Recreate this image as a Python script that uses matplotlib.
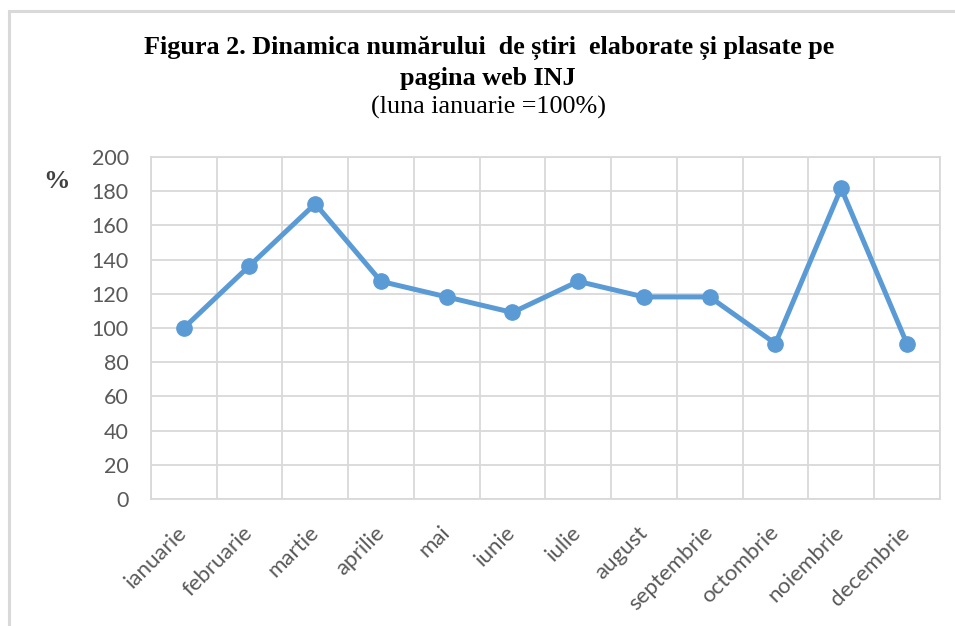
import matplotlib
matplotlib.use("Agg")
import matplotlib.pyplot as plt
from matplotlib.patches import Rectangle
from matplotlib.ticker import MultipleLocator, FixedLocator

# ── data ──────────────────────────────────────────────────────────────────────
MONTHS = ["ianuarie", "februarie", "martie", "aprilie", "mai", "iunie",
          "iulie", "august", "septembrie", "octombrie", "noiembrie", "decembrie"]
PERCENT = [100, 136.4, 172.7, 127.3, 118.2, 109.1,
           127.3, 118.2, 118.2, 90.9, 181.8, 90.9]

TITLE_1 = "Figura 2. Dinamica numărului  de știri  elaborate și plasate pe"
TITLE_2 = "pagina web INJ"
SUBTITLE = "(luna ianuarie =100%)"

# ── style ─────────────────────────────────────────────────────────────────────
LINE_BLUE = "#5B9BD5"
GRID      = "#D9D9D9"
TICK_GREY = "#595959"
SERIF     = ["Liberation Serif", "DejaVu Serif"]
SANS      = ["Lato", "DejaVu Sans"]

fig = plt.figure(figsize=(9.55, 6.26), dpi=100)
ax = fig.add_axes([0.158, 0.203, 0.826, 0.546])

# light frame (only top/left edges visible in the screenshot)
fig.patches.append(Rectangle((9 / 955, -0.05), 1.2, 1 - 11 / 626 + 0.05,
                             transform=fig.transFigure, fill=False,
                             edgecolor=GRID, linewidth=2.2))

x = list(range(len(MONTHS)))
ax.plot(x, PERCENT, color=LINE_BLUE, linewidth=3.6, marker="o",
        markersize=11, solid_joinstyle="round", zorder=3)

ax.set_xlim(-0.5, len(MONTHS) - 0.5)
ax.set_ylim(0, 200)
ax.yaxis.set_major_locator(MultipleLocator(20))
ax.set_xticks(x)
ax.set_xticklabels(MONTHS, rotation=45, ha="right", va="center",
                   rotation_mode="anchor", fontsize=16, color=TICK_GREY,
                   family=SANS)
ax.tick_params(axis="x", length=0, pad=22)
ax.tick_params(axis="y", length=0, pad=16, labelsize=15.5, labelcolor=TICK_GREY)
for lab in ax.get_yticklabels():
    lab.set_family(SANS)

# vertical grid at category boundaries, horizontal at each 20
ax.xaxis.set_minor_locator(FixedLocator([i - 0.5 for i in range(len(MONTHS) + 1)]))
ax.tick_params(axis="x", which="minor", length=0)
ax.grid(axis="x", which="minor", color=GRID, linewidth=1.3)
ax.grid(axis="y", which="major", color=GRID, linewidth=1.3)
ax.set_axisbelow(True)
for sp in ax.spines.values():
    sp.set_color(GRID)
    sp.set_linewidth(1.3)

# titles
fig.text(0.512, 1 - 48 / 626, TITLE_1, ha="center", va="center",
         fontsize=18.8, fontweight="bold", family=SERIF)
fig.text(0.511, 1 - 78 / 626, TITLE_2, ha="center", va="center",
         fontsize=18.8, fontweight="bold", family=SERIF)
fig.text(0.511, 1 - 107 / 626, SUBTITLE, ha="center", va="center",
         fontsize=18.8, family=SERIF)
fig.text(56 / 955, 1 - 182 / 626, "%", ha="center", va="center",
         fontsize=19, fontweight="bold", family=SERIF, color="#404040")

fig.savefig("out.png", dpi=100)
